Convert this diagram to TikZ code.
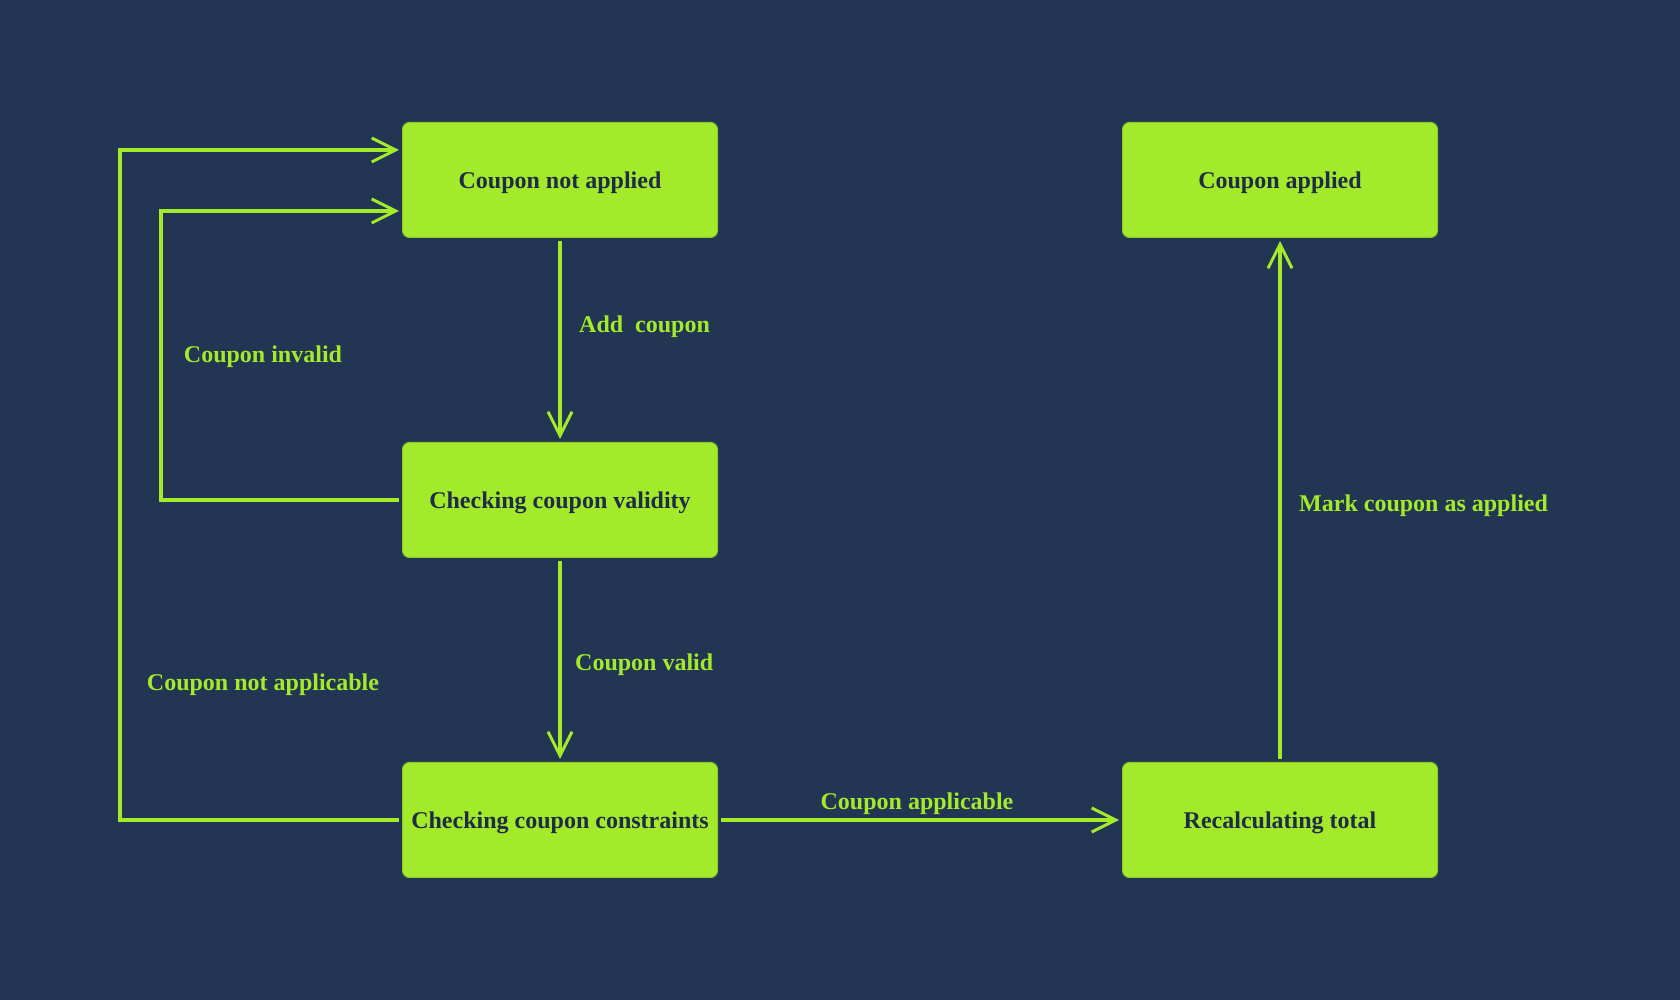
\documentclass[tikz,border=0pt]{standalone}
\usepackage{fontspec}
\setmainfont{Liberation Serif}
\usetikzlibrary{arrows.meta,calc}
\definecolor{bg}{HTML}{223552}
\definecolor{lime}{HTML}{A3EA2A}
\definecolor{limeedge}{HTML}{8CCB2A}
\definecolor{ink}{HTML}{1F2C45}
\tikzset{
  state/.style={draw=limeedge, line width=1pt, fill=lime, rounded corners=7pt,
    minimum width=315pt, minimum height=115pt, inner sep=0pt,
    text height=20pt, text depth=2.5pt,
    text=ink, font=\fontsize{24pt}{28pt}\selectfont\bfseries},
  flow/.style={draw=lime, line width=3.2pt,
    -{Straight Barb[length=24pt,width=24pt,line width=3pt]}},
  lbl/.style={text=lime, inner sep=0pt, font=\fontsize{24pt}{28pt}\selectfont\bfseries},
}
\begin{document}
\begin{tikzpicture}[x=1pt,y=1pt]
  \fill[bg] (0,0) rectangle (1680,1000);
  \useasboundingbox (0,0) rectangle (1680,1000);

  % states
  \node[state] (na)   at (560,820)  {Coupon not applied};
  \node[state] (val)  at (560,500)  {Checking coupon validity};
  \node[state] (cons) at (560,180)  {Checking coupon constraints};
  \node[state] (rec)  at (1280,180) {Recalculating total};
  \node[state] (app)  at (1280,820) {Coupon applied};

  % main transitions
  \draw[flow] ([yshift=-3pt]na.south) -- ([yshift=3pt]val.north);
  \draw[flow] ([yshift=-3pt]val.south) -- ([yshift=3pt]cons.north);
  \draw[flow] ([xshift=3pt]cons.east) -- ([xshift=-3pt]rec.west);
  \draw[flow] ([yshift=3pt]rec.north) -- ([yshift=-3pt]app.south);

  % return paths to the start state
  \coordinate (outerA) at (120,180);
  \coordinate (outerB) at (120,850);
  \coordinate (innerA) at (161,500);
  \coordinate (innerB) at (161,789);
  \draw[flow] ([xshift=-3pt]cons.west) -- (outerA) -- (outerB) -- ([xshift=-3pt,yshift=30pt]na.west);
  \draw[flow] ([xshift=-3pt]val.west) -- (innerA) -- (innerB) -- ([xshift=-3pt,yshift=-31pt]na.west);

  % transition labels
  \node[lbl, anchor=west] (l1) at (579,673) {Add\ \ coupon};
  \node[lbl, anchor=west] (l2) at (575,335) {Coupon valid};
  \node[lbl] (l3) at (917,196) {Coupon applicable};
  \node[lbl, anchor=west] (l4) at (1299,494) {Mark coupon as applied};
  \node[lbl] (l5) at (263,643) {Coupon invalid};
  \node[lbl] (l6) at (263,315) {Coupon not applicable};
\end{tikzpicture}
\end{document}
